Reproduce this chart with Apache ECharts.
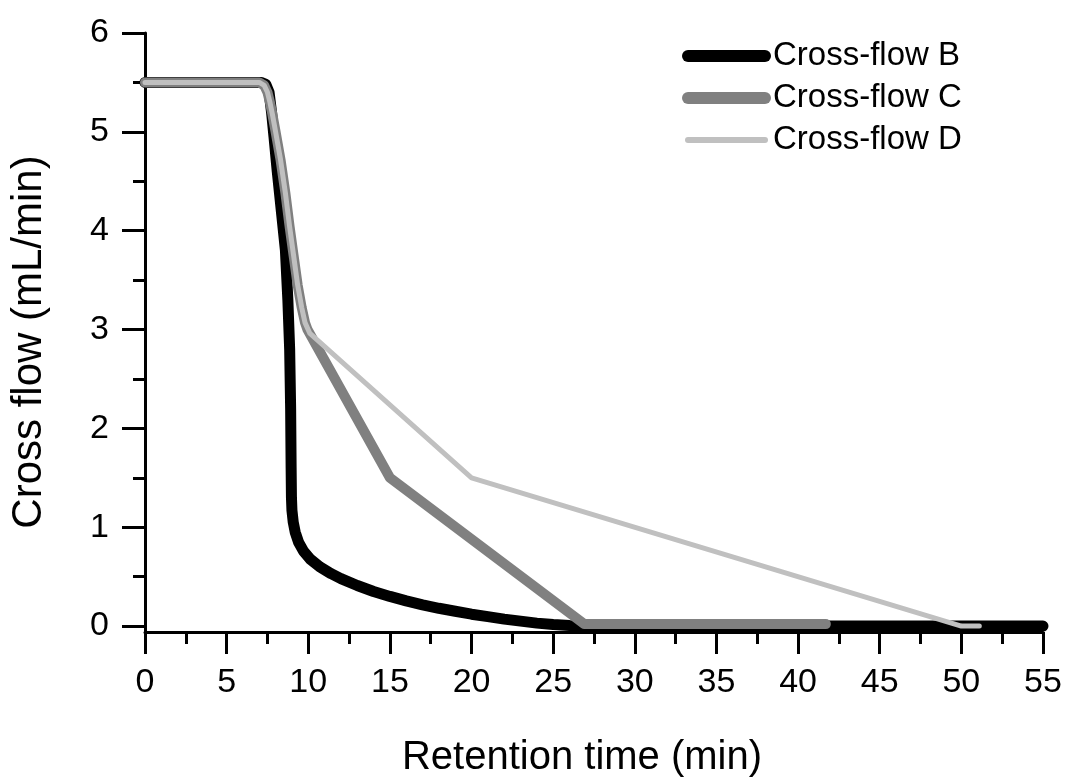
<!DOCTYPE html>
<html>
<head>
<meta charset="utf-8">
<script src="https://cdn.jsdelivr.net/npm/echarts@6/dist/echarts.min.js"></script>
<style>html,body{margin:0;padding:0;background:#fff}#c{width:1065px;height:783px}</style>
</head>
<body>
<div id="c"></div>
<script>
const seriesNames = ['Cross-flow B', 'Cross-flow C', 'Cross-flow D'];
const xTicks = [0, 5, 10, 15, 20, 25, 30, 35, 40, 45, 50, 55];
const yTicks = [0, 1, 2, 3, 4, 5, 6];
const yMinorTicks = [0.5, 1.5, 2.5, 3.5, 4.5, 5.5];

const flowB = [
  [0, 5.5], [7.1, 5.5], [7.4, 5.48], [7.6, 5.4], [7.75, 5.2], [7.9, 4.95], [8.1, 4.6],
  [8.35, 4.2], [8.6, 3.8], [8.75, 3.3], [8.86, 2.8], [8.92, 2.2], [8.95, 1.6], [8.97, 1.3],
  [9.0, 1.17], [9.08, 1.05], [9.2, 0.95], [9.4, 0.85], [9.7, 0.76], [10.1, 0.68],
  [10.7, 0.6], [11.4, 0.53], [12, 0.48], [13, 0.41], [14, 0.35], [15, 0.3], [16, 0.255],
  [17, 0.215], [18, 0.18], [19, 0.15], [20, 0.12], [21, 0.095], [22, 0.07], [23, 0.05],
  [24, 0.03], [25, 0.015], [26, 0.005], [27, 0], [55, 0]
];
const flowC = [
  [0, 5.5], [7.0, 5.5], [7.3, 5.47], [7.5, 5.4], [7.65, 5.3], [7.8, 5.18], [8.0, 5.0],
  [8.3, 4.72], [8.6, 4.38], [8.85, 4.05], [9.1, 3.75], [9.35, 3.45], [9.6, 3.22],
  [9.8, 3.07], [9.95, 3.0], [15, 1.5], [26.9, 0.02], [41.7, 0.02]
];
const flowD = [
  [0, 5.5], [7.0, 5.5], [7.3, 5.47], [7.5, 5.4], [7.65, 5.3], [7.8, 5.18], [8.0, 5.0],
  [8.3, 4.72], [8.6, 4.38], [8.85, 4.05], [9.1, 3.75], [9.35, 3.45], [9.6, 3.22],
  [9.8, 3.07], [10.1, 2.96], [20, 1.5], [50, 0.0], [51.1, 0.0]
];

const FONT = '"Liberation Sans", Arial, sans-serif';
const colors = ['#000000', '#808080', '#c0c0c0'];
const widths = [11, 10, 5];
const legendWidths = [12, 12, 6];
const datas = [flowB, flowC, flowD];

const chart = echarts.init(document.getElementById('c'), null, { renderer: 'canvas' });
const axisLineStyle = { color: '#000', width: 3 };

chart.setOption({
  animation: false,
  backgroundColor: '#fff',
  grid: { left: 141, right: 22, top: 33, bottom: 142, containLabel: false },
  legend: {
    orient: 'vertical',
    left: 682,
    top: 39.5,
    padding: 0,
    itemWidth: 77,
    itemHeight: 33,
    itemGap: 9,
    itemStyle: { opacity: 0 },
    textStyle: { fontSize: 33, color: '#000', fontFamily: FONT, lineHeight: 33, padding: [0, 0, 0, 3] },
    data: seriesNames.map((n, i) => ({
      name: n,
      itemStyle: { opacity: 0 },
      lineStyle: { width: legendWidths[i], cap: 'round' }
    }))
  },
  xAxis: [{
    type: 'value', min: 0, max: 55, interval: 5,
    name: 'Retention time (min)', nameLocation: 'middle', nameGap: 106,
    nameTextStyle: { fontSize: 40, color: '#000', fontFamily: FONT, padding: [0, 24, 0, 0] },
    axisLine: { show: true, onZero: false, lineStyle: axisLineStyle },
    axisTick: { show: true, inside: false, length: 22, lineStyle: axisLineStyle },
    minorTick: { show: true, splitNumber: 2, length: 12, lineStyle: axisLineStyle },
    axisLabel: { fontSize: 34, color: '#000', fontFamily: FONT, margin: 34,
      formatter: v => (xTicks.indexOf(v) >= 0 ? String(v) : '') },
    splitLine: { show: false }, minorSplitLine: { show: false }
  }],
  yAxis: [{
    type: 'value', min: -0.06, max: 6,
    name: 'Cross flow (mL/min)', nameLocation: 'middle', nameGap: 95, nameRotate: 90,
    nameTextStyle: { fontSize: 42, color: '#000', fontFamily: FONT, padding: [0, 19, 0, 0] },
    axisLine: { show: true, onZero: false, lineStyle: axisLineStyle },
    axisTick: { show: true, inside: false, length: 23, lineStyle: axisLineStyle, customValues: yTicks },
    axisLabel: { fontSize: 34, color: '#000', fontFamily: FONT, margin: 36, customValues: yTicks },
    splitLine: { show: false }
  }, {
    type: 'value', min: -0.06, max: 6, position: 'left', offset: 0,
    axisLine: { show: false, onZero: false },
    axisTick: { show: true, inside: false, length: 12, lineStyle: axisLineStyle, customValues: yMinorTicks },
    axisLabel: { show: false },
    splitLine: { show: false }
  }],
  series: seriesNames.map((n, i) => ({
    name: n,
    type: 'line',
    data: datas[i],
    yAxisIndex: 0,
    showSymbol: false,
    symbol: 'none',
    color: colors[i],
    z: 2 + i,
    lineStyle: { color: colors[i], width: widths[i], cap: 'round', join: 'round' }
  }))
});
</script>
</body>
</html>
